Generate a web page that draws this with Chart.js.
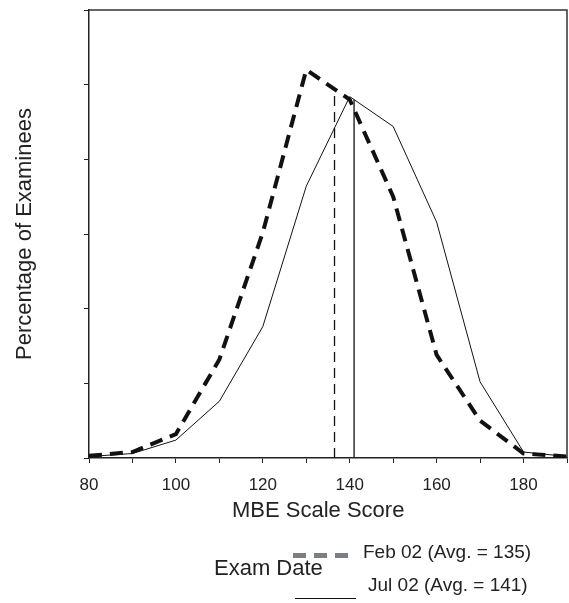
<!DOCTYPE html>
<html>
<head>
<meta charset="utf-8">
<script src="https://cdn.jsdelivr.net/npm/chart.js@4"></script>
<style>
  body { margin: 0; background: #fff; }
  #wrap { position: relative; width: 569px; height: 603px; font-family: "Liberation Sans", Arial, sans-serif; color: #222; }
  #mbeChart { display: block; }
  .txt { position: absolute; white-space: nowrap; }
  .big { font-size: 22px; line-height: 26px; }
  .small { font-size: 19px; line-height: 22px; }
  #dashSample { position: absolute; left: 293px; top: 553px; width: 61px; height: 5px;
    background: repeating-linear-gradient(to right, #7b7e82 0 13px, transparent 13px 21px); }
  #lineSample { position: absolute; left: 295px; top: 598px; width: 61px; height: 0; border-top: 1px solid #111; }
</style>
</head>
<body>
<div id="wrap">
  <canvas id="mbeChart" width="569" height="603"></canvas>
  <div class="txt big" style="left:232px; top:497px;">MBE Scale Score</div>
  <div class="txt big" style="left:214px; top:555px;">Exam Date</div>
  <div id="dashSample"></div>
  <div class="txt small" style="left:363px; top:541px;">Feb 02 (Avg. = 135)</div>
  <div id="lineSample"></div>
  <div class="txt small" style="left:368px; top:574px;">Jul 02 (Avg. = 141)</div>
</div>
<script>
const scores = [80, 90, 100, 110, 120, 130, 140, 150, 160, 170, 180, 190];
const feb02 = [0.15, 0.4, 1.6, 6.6, 15.1, 26.0, 24.0, 17.5, 6.9, 2.5, 0.3, 0.1];
const jul02 = [0.1, 0.3, 1.2, 3.8, 8.8, 18.2, 24.2, 22.2, 15.8, 5.1, 0.4, 0.1];
const febAvg = 136.5;
const julAvg = 141;
const febAvgTop = 24.7;
const julAvgTop = 24.0;

const toPoints = (xs, ys) => xs.map((x, i) => ({ x: x, y: ys[i] }));

const boxBorder = {
  id: "boxBorder",
  afterDraw(chart) {
    const { ctx, chartArea } = chart;
    ctx.save();
    ctx.strokeStyle = "#333";
    ctx.lineWidth = 1.5;
    ctx.beginPath();
    ctx.moveTo(chartArea.left, chartArea.top);
    ctx.lineTo(chartArea.right, chartArea.top);
    ctx.lineTo(chartArea.right, chartArea.bottom);
    ctx.stroke();
    ctx.restore();
  },
};

const config = {
  type: "line",
  data: {
    datasets: [
      {
        label: "Feb 02 (Avg. = 135)",
        data: toPoints(scores, feb02),
        borderColor: "#111",
        borderWidth: 4,
        borderDash: [13, 8],
        pointRadius: 0,
        tension: 0,
      },
      {
        label: "Jul 02 (Avg. = 141)",
        data: toPoints(scores, jul02),
        borderColor: "#111",
        borderWidth: 1,
        pointRadius: 0,
        tension: 0,
      },
      {
        label: "Feb avg",
        data: [{ x: febAvg, y: 0 }, { x: febAvg, y: febAvgTop }],
        borderColor: "#111",
        borderWidth: 1.3,
        borderDash: [10, 6],
        pointRadius: 0,
      },
      {
        label: "Jul avg",
        data: [{ x: julAvg, y: 0 }, { x: julAvg, y: julAvgTop }],
        borderColor: "#111",
        borderWidth: 1.3,
        pointRadius: 0,
      },
    ],
  },
  options: {
    responsive: false,
    animation: false,
    layout: { padding: { left: 0, right: 2, top: 10, bottom: 0 } },
    plugins: { legend: { display: false }, tooltip: { enabled: false } },
    scales: {
      x: {
        type: "linear",
        min: 80,
        max: 190,
        border: { display: true, color: "#222", width: 1.5 },
        grid: { drawOnChartArea: false, drawTicks: true, tickLength: 5, color: "#222" },
        ticks: {
          stepSize: 10,
          autoSkip: false,
          maxRotation: 0,
          padding: 12,
          color: "#222",
          font: { family: "Liberation Sans", size: 17 },
          callback: (v) => (v % 20 === 0 ? v : ""),
        },
        afterFit: (scale) => {
          scale.height = 145;
          scale.paddingLeft = 0;
          scale.paddingRight = 0;
        },
      },
      y: {
        min: 0,
        max: 30,
        border: { display: true, color: "#222", width: 1.5 },
        grid: { drawOnChartArea: false, drawTicks: true, tickLength: 5, color: "#222" },
        ticks: { stepSize: 5, display: false },
        title: {
          display: true,
          text: "Percentage of Examinees",
          color: "#222",
          font: { family: "Liberation Sans", size: 22 },
          padding: { top: 12, bottom: 0 },
        },
        afterFit: (scale) => {
          scale.width = 89;
          scale.paddingTop = 0;
          scale.paddingBottom = 0;
        },
      },
    },
  },
  plugins: [boxBorder],
};

const canvas = document.getElementById("mbeChart");
if (canvas) {
  new Chart(canvas, config);
} else {
  console.error("Canvas not found");
}
</script>
</body>
</html>
